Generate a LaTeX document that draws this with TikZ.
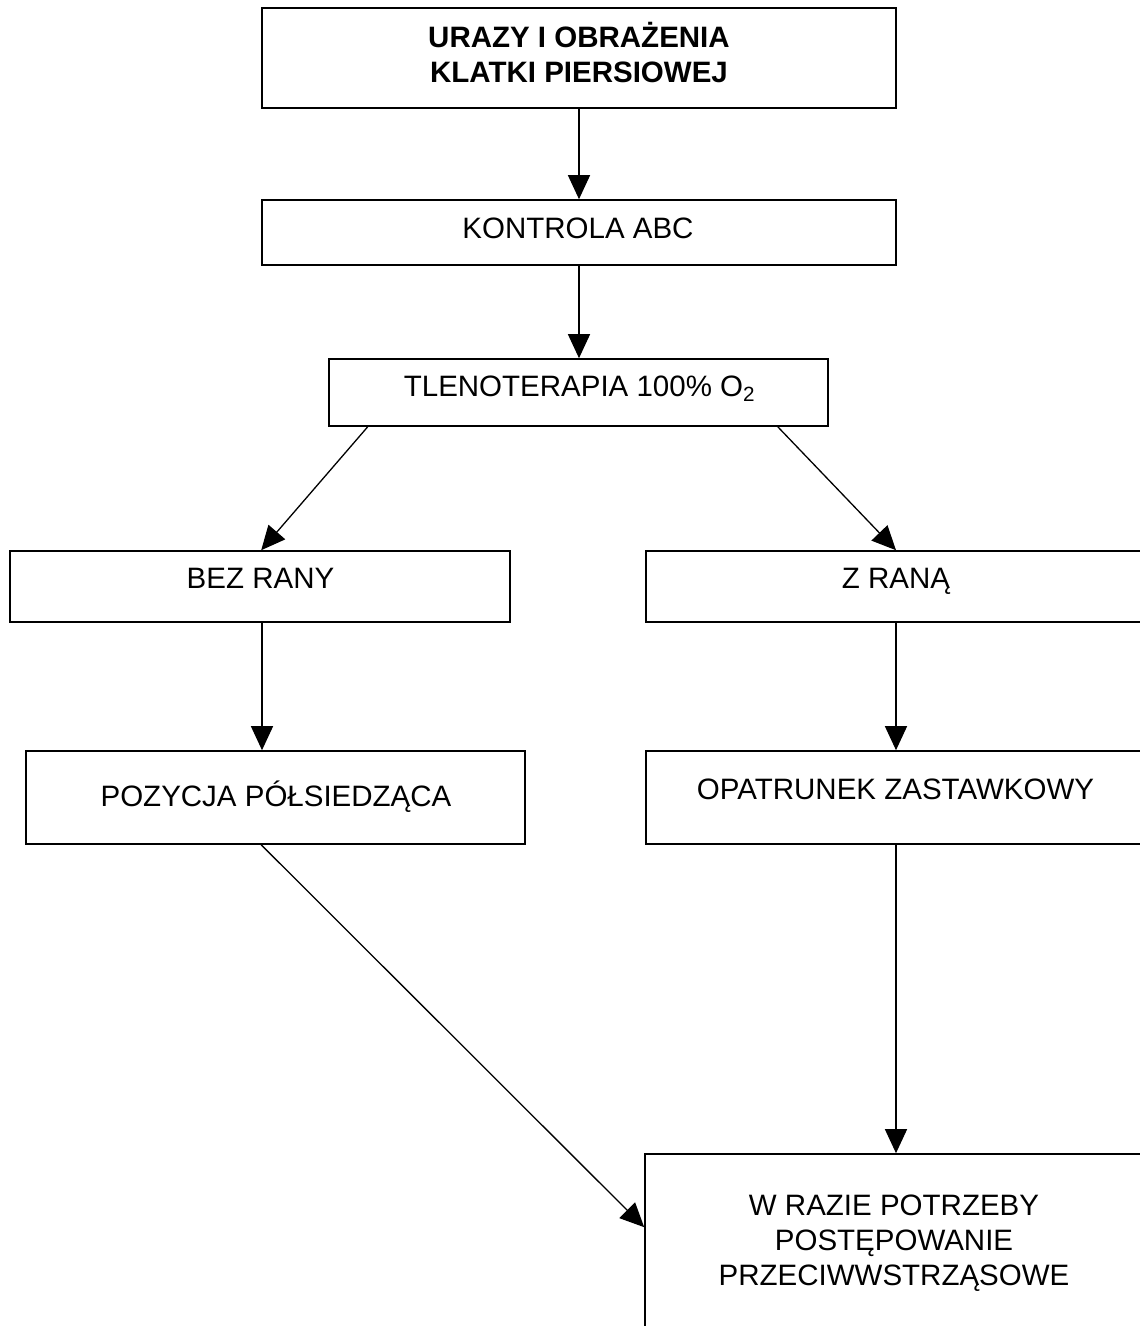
\documentclass[tikz,border=0pt]{standalone}
\usepackage{fontspec}
\setmainfont{Liberation Sans}
\usetikzlibrary{arrows.meta}
\begin{document}
\begin{tikzpicture}[x=1pt,y=-1pt,
  box/.style={draw, line width=1.6pt, inner sep=0pt},
  txt/.style={font=\fontsize{29.5}{34.5}\selectfont, inner sep=0pt, anchor=base},
  btxt/.style={txt, font=\fontsize{29.5}{34.5}\selectfont\bfseries},
  conn/.style={line width=1.3pt, -{Triangle[length=24pt,width=22pt]}}]
\useasboundingbox (0,0) rectangle (1140,1326);
\clip (0,0) rectangle (1140,1326);

% boxes
\node[box, minimum width=634pt, minimum height=100pt] (top) at (579,58) {};
\node[box, minimum width=634pt, minimum height=65pt] (kon) at (579,232.5) {};
\node[box, minimum width=499pt, minimum height=67pt] (tle) at (578.5,392.5) {};
\node[box, minimum width=500pt, minimum height=71pt] (bez) at (260,586.5) {};
\node[box, minimum width=500pt, minimum height=71pt] (zr) at (896,586.5) {};
\node[box, minimum width=499pt, minimum height=93pt] (poz) at (275.5,797.5) {};
\node[box, minimum width=500pt, minimum height=93pt] (opa) at (896,797.5) {};
\node[box, minimum width=501pt, minimum height=246pt] (wr) at (895.5,1277) {};

% texts
\node[btxt] (ttop1) at (579,47.5) {URAZY I OBRAŻENIA};
\node[btxt] (ttop2) at (579,82.5) {KLATKI PIERSIOWEJ};
\node[txt] (tkon) at (578,238) {KONTROLA ABC};
\node[txt] (ttle) at (579.5,396) {TLENOTERAPIA 100\% O\textsubscript{2}};
\node[txt] (tbez) at (260.5,588) {BEZ RANY};
\node[txt] (tzr) at (896,588) {Z RANĄ};
\node[txt] (tpoz) at (276,806) {POZYCJA PÓŁSIEDZĄCA};
\node[txt] (topa) at (895.5,799) {OPATRUNEK ZASTAWKOWY};
\node[txt] (twr1) at (894,1215) {W RAZIE POTRZEBY};
\node[txt] (twr2) at (894,1250) {POSTĘPOWANIE};
\node[txt] (twr3) at (894,1285) {PRZECIWWSTRZĄSOWE};

% connectors
\draw[conn] (top.south) -- (kon.north);
\draw[conn] (kon.south) -- (kon.south |- tle.north);
\draw[conn] ([xshift=39.5pt]tle.south west) -- ([xshift=252pt]bez.north west);
\draw[conn] ([xshift=-51pt]tle.south east) -- (zr.north);
\draw[conn] ([xshift=2pt]bez.south) -- ([xshift=2pt]bez.south |- poz.north);
\draw[conn] (zr.south) -- (opa.north);
\draw[conn] ([xshift=236pt]poz.south west) -- ([yshift=-74pt]wr.north west);
\draw[conn] (opa.south) -- (opa.south |- wr.north);
\end{tikzpicture}
\end{document}
